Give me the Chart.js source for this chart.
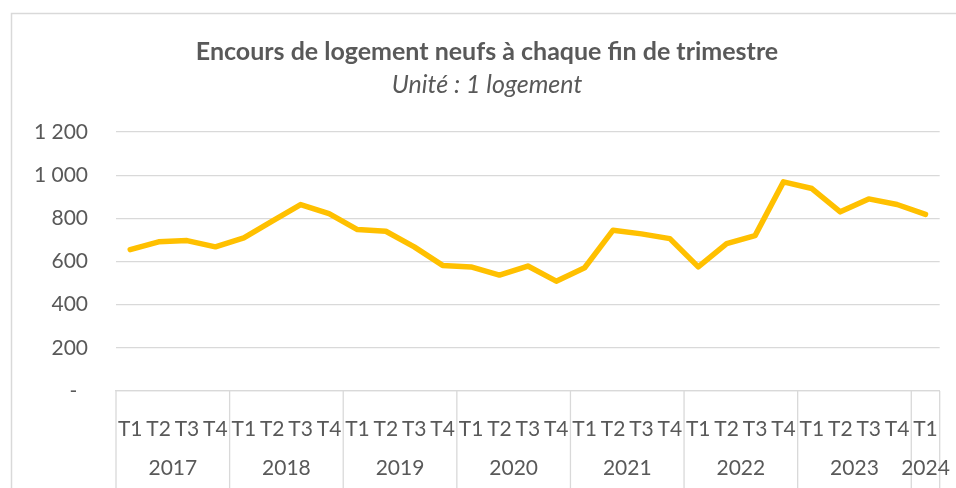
<!DOCTYPE html>
<html>
<head>
<meta charset="utf-8">
<script src="https://cdn.jsdelivr.net/npm/chart.js@4.4.1/dist/chart.umd.min.js"></script>
<style>
  html, body { margin: 0; padding: 0; background: #fff; }
  #wrap { width: 956px; height: 488px; }
</style>
</head>
<body>
<div id="wrap"><canvas id="encours"></canvas></div>
<script>
// data
const quarters = [
    'T1', 'T2', 'T3', 'T4', 'T1', 'T2', 'T3', 'T4', 'T1', 'T2', 'T3', 'T4',
    'T1', 'T2', 'T3', 'T4', 'T1', 'T2', 'T3', 'T4', 'T1', 'T2', 'T3', 'T4',
    'T1', 'T2', 'T3', 'T4', 'T1'
];
const years = ['2017', '2018', '2019', '2020', '2021', '2022', '2023', '2024'];
const quartersPerYear = [4, 4, 4, 4, 4, 4, 4, 1];
const encours = [
    655, 691, 697, 668,
    710, 787, 864, 822,
    748, 740, 668, 582,
    575, 537, 579, 509,
    571, 745, 728, 706,
    575, 683, 720, 969,
    938, 830, 890, 864,
    818
];
const yTicks = [0, 200, 400, 600, 800, 1000, 1200];

const FONT = 'Lato, "Open Sans", sans-serif';
const TEXT = '#595959';
const GRID = '#d9d9d9';

// light frame of the original spreadsheet chart
const framePlugin = {
    id: 'frame',
    beforeDraw(chart) {
        const ctx = chart.ctx;
        ctx.save();
        ctx.strokeStyle = GRID;
        ctx.lineWidth = 1.5;
        ctx.strokeRect(11.5, 13.5, 1000, 1000);
        ctx.restore();
    }
};

// second level of the category axis: year groups with separators
const yearAxisPlugin = {
    id: 'yearAxis',
    afterDraw(chart) {
        const x = chart.scales.x;
        const ctx = chart.ctx;
        const half = (x.getPixelForValue(1) - x.getPixelForValue(0)) / 2;
        ctx.save();
        ctx.strokeStyle = GRID;
        ctx.lineWidth = 1.3;
        ctx.fillStyle = TEXT;
        ctx.font = '21px ' + FONT;
        ctx.textAlign = 'center';
        ctx.textBaseline = 'middle';

        let start = 0;
        years.forEach((yr, k) => {
            const n = quartersPerYear[k];
            const left = x.getPixelForValue(start) - half;
            const right = x.getPixelForValue(start + n - 1) + half;
            ctx.beginPath();
            ctx.moveTo(left, x.top);
            ctx.lineTo(left, chart.height);
            if (k === years.length - 1) {
                ctx.moveTo(right, x.top);
                ctx.lineTo(right, chart.height);
            }
            ctx.stroke();
            ctx.fillText(yr, (left + right) / 2, 468);
            start += n;
        });
        ctx.restore();
    }
};

function spaced(v) {
    if (v === 0) return '-  ';
    return String(v).replace(/\B(?=(\d{3})+(?!\d))/g, ' ');
}

new Chart(document.getElementById('encours'), {
    type: 'line',
    data: {
        labels: quarters,
        datasets: [{
            label: 'Encours',
            data: encours,
            borderColor: '#FFC000',
            backgroundColor: '#FFC000',
            borderWidth: 5.5,
            borderJoinStyle: 'round',
            borderCapStyle: 'round',
            pointRadius: 0,
            tension: 0,
            fill: false
        }]
    },
    options: {
        responsive: true,
        maintainAspectRatio: false,
        animation: false,
        layout: { padding: { left: 31, right: 13, top: 0, bottom: 0 } },
        scales: {
            x: {
                type: 'category',
                offset: true,
                grid: { display: false },
                border: { display: true, color: GRID, width: 1.3 },
                ticks: {
                    color: TEXT,
                    font: { family: FONT, size: 21 },
                    padding: 18,
                    maxRotation: 0,
                    autoSkip: false
                },
                afterFit(scale) { scale.height = 97; }
            },
            y: {
                min: 0,
                max: 1200,
                afterBuildTicks(scale) {
                    scale.ticks = yTicks.map(v => ({ value: v }));
                },
                grid: { color: GRID, lineWidth: 1.3, drawTicks: false },
                border: { display: false },
                ticks: {
                    color: TEXT,
                    font: { family: FONT, size: 21 },
                    padding: 28,
                    callback: v => spaced(v)
                },
                afterFit(scale) { scale.width = 85; }
            }
        },
        plugins: {
            legend: { display: false },
            tooltip: { enabled: false },
            title: {
                display: true,
                text: 'Encours de logement neufs à chaque fin de trimestre',
                color: TEXT,
                font: { family: FONT, size: 25, weight: 'bold' },
                padding: { top: 37, bottom: 0 }
            },
            subtitle: {
                display: true,
                text: 'Unité : 1 logement',
                color: TEXT,
                font: { family: FONT, size: 25, style: 'italic' },
                padding: { top: 3, bottom: 32 }
            }
        }
    },
    plugins: [framePlugin, yearAxisPlugin]
});
</script>
</body>
</html>
